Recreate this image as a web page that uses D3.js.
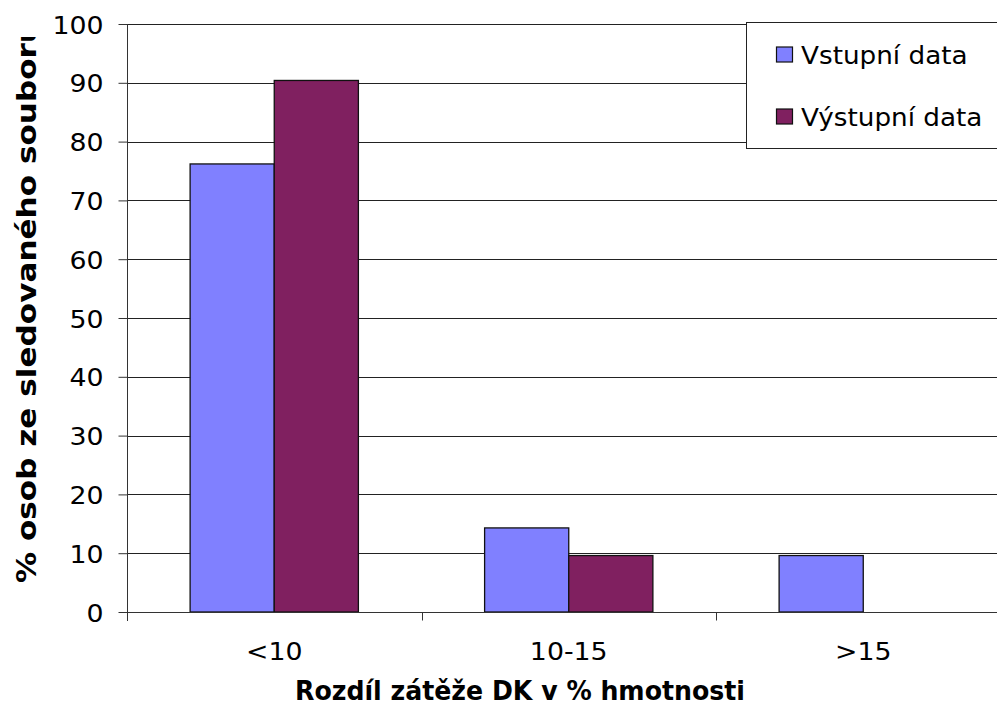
<!DOCTYPE html>
<html>
<head>
<meta charset="utf-8">
<script src="https://cdn.jsdelivr.net/npm/d3@7"></script>
<style>
  html, body { margin: 0; padding: 0; background: #fff; }
  svg { display: block; font-family: "DejaVu Sans", Verdana, sans-serif; }
</style>
</head>
<body>
<svg id="chart" width="997" height="710"></svg>
<script>
// Rozdíl zátěže DK — podíl osob v jednotlivých pásmech
const categories = ["<10", "10-15", ">15"];
const seriesNames = ["Vstupní data", "Výstupní data"];
const vstupni = [76.2, 14.3, 9.6];
const vystupni = [90.4, 9.6, 0];
const yTicks = [0, 10, 20, 30, 40, 50, 60, 70, 80, 90, 100];
const colors = ["#8080FF", "#802060"];

const svg = d3.select("#chart");
svg.append("rect").attr("width", 997).attr("height", 710).attr("fill", "#fff");

// widen DejaVu glyph runs a little so they read like Verdana
function widen(sel, factor) {
  sel.each(function () {
    const len = this.getComputedTextLength();
    d3.select(this).attr("textLength", len * factor).attr("lengthAdjust", "spacingAndGlyphs");
  });
}

const plot = { left: 127, right: 1010.5, top: 24, bottom: 612 };

const x = d3.scaleBand().domain(categories).range([plot.left, plot.right]).paddingInner(0).paddingOuter(0);
const xSeries = d3.scaleBand().domain(seriesNames).range([0, x.bandwidth()]).paddingInner(0).paddingOuter(0.75);
const y = d3.scaleLinear().domain([0, 100]).range([plot.bottom, plot.top]);

// horizontal gridlines
svg.append("g").selectAll("line").data(yTicks).join("line")
  .attr("x1", plot.left).attr("x2", plot.right)
  .attr("y1", d => Math.round(y(d)) + 0.5).attr("y2", d => Math.round(y(d)) + 0.5)
  .attr("stroke", "#222").attr("stroke-width", 1);

// bars
const rows = categories.map((c, i) => ({ cat: c, vals: [vstupni[i], vystupni[i]] }));
const g = svg.append("g");
rows.forEach(r => {
  r.vals.forEach((v, j) => {
    if (v <= 0) return;
    g.append("rect")
      .attr("x", x(r.cat) + xSeries(seriesNames[j]))
      .attr("y", y(v))
      .attr("width", xSeries.bandwidth())
      .attr("height", y(0) - y(v))
      .attr("fill", colors[j])
      .attr("stroke", "#111")
      .attr("stroke-width", 1.3);
  });
});

// y axis
const yAxis = d3.axisLeft(y).tickValues(yTicks).tickSize(9).tickPadding(15).tickFormat(d3.format("d"));
const ya = svg.append("g").attr("transform", `translate(${plot.left + 0.5},0)`).call(yAxis);
ya.select(".domain").attr("stroke", "#333").attr("d", `M0,${plot.top}V${plot.bottom + 9}`);
ya.selectAll(".tick line").attr("stroke", "#333");
ya.selectAll(".tick text").attr("font-size", 25).attr("fill", "#000")
  .attr("font-family", "DejaVu Sans, Verdana, sans-serif").attr("dy", "0.36em");
widen(ya.selectAll(".tick text"), 1.07);

// x axis
const xa = svg.append("g").attr("transform", `translate(0,${plot.bottom + 0.5})`);
xa.append("line").attr("x1", plot.left).attr("x2", plot.right).attr("stroke", "#333");
const boundaries = d3.range(categories.length + 1).map(i => plot.left + i * x.bandwidth());
xa.selectAll("line.tk").data(boundaries).join("line").attr("class", "tk")
  .attr("x1", d => Math.round(d) + 0.5).attr("x2", d => Math.round(d) + 0.5)
  .attr("y1", 0).attr("y2", 8).attr("stroke", "#333");
const catText = xa.selectAll("text").data(categories).join("text")
  .attr("x", d => x(d) + x.bandwidth() / 2).attr("y", 47.5)
  .attr("text-anchor", "middle").attr("font-size", 25).attr("fill", "#000")
  .text(d => d);
widen(catText, 1.07);

// axis titles
svg.append("text").attr("x", 520).attr("y", 700).attr("text-anchor", "middle")
  .attr("font-size", 26).attr("font-weight", "bold").attr("fill", "#000")
  .attr("textLength", 450).attr("lengthAdjust", "spacingAndGlyphs")
  .text("Rozdíl zátěže DK v % hmotnosti");

svg.append("clipPath").attr("id", "ytclip").append("rect")
  .attr("x", 0).attr("y", 37).attr("width", 60).attr("height", 620);
svg.append("g").attr("clip-path", "url(#ytclip)")
  .append("text").attr("transform", "translate(36,583) rotate(-90)")
  .attr("text-anchor", "start").attr("font-size", 26).attr("font-weight", "bold").attr("fill", "#000")
  .attr("textLength", 562).attr("lengthAdjust", "spacingAndGlyphs")
  .text("% osob ze sledovaného souboru");

// legend
const lg = svg.append("g");
lg.append("rect").attr("x", 746.5).attr("y", 22.5).attr("width", 300).attr("height", 126)
  .attr("fill", "#fff").attr("stroke", "#222").attr("stroke-width", 1);
seriesNames.forEach((n, i) => {
  const yy = 47 + i * 62;
  lg.append("rect").attr("x", 776.5).attr("y", yy).attr("width", 16).attr("height", 15)
    .attr("fill", colors[i]).attr("stroke", "#111").attr("stroke-width", 1.2);
  const t = lg.append("text").attr("x", 801).attr("y", yy + 16.5).attr("font-size", 25)
    .attr("fill", "#000").text(n);
  widen(t, 1.05);
});
</script>
</body>
</html>
